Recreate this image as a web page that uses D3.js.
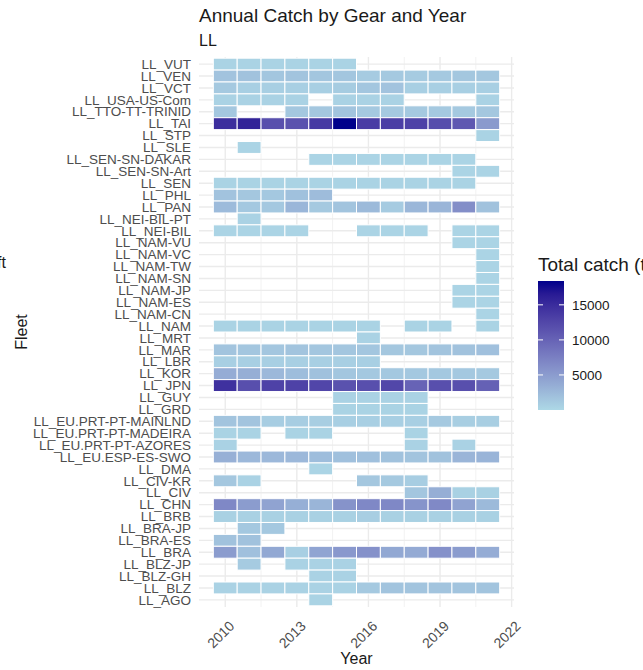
<!DOCTYPE html>
<html>
<head>
<meta charset="utf-8">
<script src="https://cdn.jsdelivr.net/npm/d3@7"></script>
<style>
  body { margin: 0; background: #fff; }
  text { font-family: "Liberation Sans", Arial, sans-serif; }
</style>
</head>
<body>
<svg id="chartSvg"></svg>
<script>
// years on the x axis
years = [2010, 2011, 2012, 2013, 2014, 2015, 2016, 2017, 2018, 2019, 2020, 2021]
xTicks = [2010, 2013, 2016, 2019, 2022]

// fleets, top to bottom
fleets = ['LL_VUT', 'LL_VEN', 'LL_VCT', 'LL_USA-US-Com', 'LL_TTO-TT-TRINID', 'LL_TAI', 'LL_STP', 'LL_SLE',
  'LL_SEN-SN-DAKAR', 'LL_SEN-SN-Art', 'LL_SEN', 'LL_PHL', 'LL_PAN', 'LL_NEI-BIL-PT', 'LL_NEI-BIL',
  'LL_NAM-VU', 'LL_NAM-VC', 'LL_NAM-TW', 'LL_NAM-SN', 'LL_NAM-JP', 'LL_NAM-ES', 'LL_NAM-CN', 'LL_NAM',
  'LL_MRT', 'LL_MAR', 'LL_LBR', 'LL_KOR', 'LL_JPN', 'LL_GUY', 'LL_GRD', 'LL_EU.PRT-PT-MAINLND',
  'LL_EU.PRT-PT-MADEIRA', 'LL_EU.PRT-PT-AZORES', 'LL_EU.ESP-ES-SWO', 'LL_DMA', 'LL_CIV-KR', 'LL_CIV',
  'LL_CHN', 'LL_BRB', 'LL_BRA-JP', 'LL_BRA-ES', 'LL_BRA', 'LL_BLZ-JP', 'LL_BLZ-GH', 'LL_BLZ', 'LL_AGO']

// total catch (t) per fleet, one value per year 2010..2021 (null = no catch)
N = null
catchT = [
  [400, 400, 400, 400, 400, 400, N, N, N, N, N, N],                                   // VUT
  [1700, 1800, 1500, 1600, 1500, 1500, 1100, 1200, 1100, 1200, 1400, 1400],           // VEN
  [1200, 700, 700, 700, 700, 1000, 1500, 1700, 700, 700, 700, 700],                   // VCT
  [500, 500, 500, 500, N, 500, 500, 500, N, N, N, 500],                               // USA-US-Com
  [1400, N, N, 1400, 1400, 1600, 1200, 1200, 1200, 1200, 1200, 1400],                 // TTO
  [14800, 15800, 11800, 11500, 13800, 18400, 13500, 13300, 13000, 12000, 11000, 5200], // TAI
  [N, N, N, N, N, N, N, N, N, N, N, 400],                                             // STP
  [N, 300, N, N, N, N, N, N, N, N, N, N],                                             // SLE
  [N, N, N, N, 300, 300, 300, 300, 300, 300, 300, N],                                 // SEN-SN-DAKAR
  [N, N, N, N, N, N, N, N, N, N, 300, 300],                                           // SEN-SN-Art
  [400, 400, 400, 400, 400, 400, 400, 400, 400, 400, 400, N],                         // SEN
  [1700, 1400, 1300, 1900, 2300, N, N, N, N, N, N, N],                                // PHL
  [2400, 1300, 1300, 2800, 1200, 1600, 2500, 1100, 2700, 2900, 6200, 1800],          // PAN
  [N, 500, N, N, N, N, N, N, N, N, N, N],                                             // NEI-BIL-PT
  [300, 300, 300, 300, N, N, 300, 300, 300, N, 300, 300],                             // NEI-BIL
  [N, N, N, N, N, N, N, N, N, N, 300, 300],                                           // NAM-VU
  [N, N, N, N, N, N, N, N, N, N, N, 300],                                             // NAM-VC
  [N, N, N, N, N, N, N, N, N, N, N, 300],                                             // NAM-TW
  [N, N, N, N, N, N, N, N, N, N, N, 300],                                             // NAM-SN
  [N, N, N, N, N, N, N, N, N, N, 300, 300],                                           // NAM-JP
  [N, N, N, N, N, N, N, N, N, N, 300, 300],                                           // NAM-ES
  [N, N, N, N, N, N, N, N, N, N, N, 300],                                             // NAM-CN
  [400, 400, 400, 400, 400, 400, 400, N, 400, 400, N, 400],                           // NAM
  [N, N, N, N, N, N, 500, N, N, N, N, N],                                             // MRT
  [1600, 1500, 1500, 1600, 1500, 1500, 1500, 1400, 1400, 1600, 1800, 2000],          // MAR
  [700, 700, 700, 700, 700, 700, 700, N, N, N, N, N],                                 // LBR
  [3600, 3500, 2600, 2200, 1900, 1500, 1300, 1300, 1300, 1300, 1300, 1200],          // KOR
  [14500, 11800, 13000, 13000, 12600, 11500, 11800, 12500, 10000, 11800, 11800, 10200], // JPN
  [N, N, N, N, N, 500, 500, 500, 500, N, N, N],                                       // GUY
  [N, N, N, N, N, 400, 400, 400, 400, N, N, N],                                       // GRD
  [1600, 1600, 900, 900, 800, 700, 700, 700, 700, 1200, 800, 800],                    // EU.PRT-MAINLND
  [400, 400, N, 400, 400, N, N, N, 400, N, N, N],                                     // EU.PRT-MADEIRA
  [500, N, N, N, N, N, N, N, 500, N, 500, N],                                         // EU.PRT-AZORES
  [3300, 2600, 2600, 2600, 2200, 2000, 2000, 1800, 1600, 1800, 2900, 3000],          // EU.ESP-ES-SWO
  [N, N, N, N, 300, N, N, N, N, N, N, N],                                             // DMA
  [1400, 500, N, N, N, N, 1400, 1200, 900, N, N, N],                                  // CIV-KR
  [N, N, N, N, N, N, N, N, 1500, 3500, 600, 600],                                     // CIV
  [6700, 5000, 4400, 3400, 2900, 5800, 6700, 6700, 5700, 6600, 4400, 2500],          // CHN
  [600, 600, 600, 600, 600, 600, 800, 600, 600, 600, 600, 600],                       // BRB
  [N, 1300, 1300, N, N, N, N, N, N, N, N, N],                                         // BRA-JP
  [1800, 1800, N, N, N, N, N, N, N, N, N, N],                                         // BRA-ES
  [5000, 2000, 4000, 700, 4300, 5300, 5900, 4000, 3800, 5900, 5000, 3600],           // BRA
  [N, 1100, N, 500, 500, 500, N, N, N, N, N, N],                                      // BLZ-JP
  [N, N, N, N, 500, 500, N, N, N, N, N, N],                                           // BLZ-GH
  [500, 500, 500, 500, 500, 500, 1200, 1600, 1600, 1600, 1600, 1600],                // BLZ
  [N, N, N, N, 400, N, N, N, N, N, N, N]                                              // AGO
]
legendTicks = [5000, 10000, 15000]

let width = 643
let height = 670
let margin = { top: 57, left: 199, right: 129, bottom: 63 }
let chartWidth = width - margin.left - margin.right
let chartHeight = height - margin.top - margin.bottom

const svg = d3.select('#chartSvg').attr('width', width).attr('height', height)

cells = []
fleets.forEach((f, i) => years.forEach((y, j) => {
  if (catchT[i][j] != null) cells.push({ fleet: f, year: y, value: catchT[i][j] })
}))

xScale = d3.scaleLinear().domain([2008.9, 2022.1]).range([0, chartWidth])
// discrete axis with 0.6 of a step of room at each end
yScale = d3.scalePoint().domain(fleets).range([0, chartHeight]).padding(0.6)
let step = yScale.step()

maxCatch = d3.max(cells, d => d.value)
color = d3.scaleLinear().domain([0, maxCatch]).range(['lightblue', 'darkblue']).interpolate(d3.interpolateLab)

const g = svg.append('g').attr('transform', `translate(${margin.left},${margin.top})`)

// grid
minorX = [2011.5, 2014.5, 2017.5, 2020.5]
g.selectAll('.minor').data(minorX).enter().append('line')
  .attr('x1', d => xScale(d)).attr('x2', d => xScale(d))
  .attr('y1', 0).attr('y2', chartHeight)
  .attr('stroke', '#f2f2f2').attr('stroke-width', 1)
g.selectAll('.majorX').data(xTicks).enter().append('line')
  .attr('x1', d => xScale(d)).attr('x2', d => xScale(d))
  .attr('y1', 0).attr('y2', chartHeight)
  .attr('stroke', '#ebebeb').attr('stroke-width', 1.4)
g.selectAll('.majorY').data(fleets).enter().append('line')
  .attr('x1', 0).attr('x2', chartWidth)
  .attr('y1', d => yScale(d)).attr('y2', d => yScale(d))
  .attr('stroke', '#ebebeb').attr('stroke-width', 1.4)

// tiles
let cellW = xScale(2011) - xScale(2010)
g.selectAll('.tile').data(cells).enter().append('rect')
  .attr('x', d => xScale(d.year) - cellW / 2)
  .attr('y', d => yScale(d.fleet) - step / 2)
  .attr('width', cellW)
  .attr('height', step)
  .attr('fill', d => color(d.value))
  .attr('stroke', 'white')
  .attr('stroke-width', 1)

// y labels
g.selectAll('.ylab').data(fleets).enter().append('text')
  .attr('x', -8)
  .attr('y', d => yScale(d))
  .attr('dy', '0.35em')
  .attr('text-anchor', 'end')
  .attr('font-size', 13.5)
  .attr('fill', '#4d4d4d')
  .text(d => d)

// x labels
g.selectAll('.xlab').data(xTicks).enter().append('text')
  .attr('transform', d => `translate(${xScale(d) + 3},${chartHeight + 13}) rotate(-45)`)
  .attr('text-anchor', 'end')
  .attr('dy', '0.7em')
  .attr('font-size', 14)
  .attr('fill', '#4d4d4d')
  .text(d => d)

// titles
svg.append('text').attr('x', margin.left).attr('y', 22).attr('font-size', 19).attr('fill', '#1a1a1a')
  .text('Annual Catch by Gear and Year')
svg.append('text').attr('x', margin.left).attr('y', 46).attr('font-size', 16).attr('fill', '#1a1a1a')
  .text('LL')
svg.append('text').attr('x', margin.left + chartWidth / 2).attr('y', 664).attr('text-anchor', 'middle')
  .attr('font-size', 16).attr('fill', '#1a1a1a').text('Year')
svg.append('text').attr('transform', `translate(27,${margin.top + chartHeight / 2}) rotate(-90)`)
  .attr('text-anchor', 'middle').attr('font-size', 16).attr('fill', '#1a1a1a').text('Fleet')
svg.append('text').attr('x', 6).attr('y', 268).attr('text-anchor', 'end')
  .attr('font-size', 16).attr('fill', '#1a1a1a').text('Aircraft')

// legend
let lx = 538, ly = 281, lw = 26, lh = 129
legendScale = d3.scaleLinear().domain([0, maxCatch]).range([ly + lh, ly])
svg.append('text').attr('x', lx).attr('y', 271).attr('font-size', 19).attr('fill', '#1a1a1a')
  .text('Total catch (t)')
const defs = svg.append('defs')
const grad = defs.append('linearGradient').attr('id', 'lg').attr('x1', 0).attr('y1', 1).attr('x2', 0).attr('y2', 0)
d3.range(0, 1.001, 0.1).forEach(t => {
  grad.append('stop').attr('offset', t).attr('stop-color', color(t * maxCatch))
})
svg.append('rect').attr('x', lx).attr('y', ly).attr('width', lw).attr('height', lh).attr('fill', 'url(#lg)')
legendTicks.forEach(v => {
  svg.append('line').attr('x1', lx).attr('x2', lx + 5).attr('y1', legendScale(v)).attr('y2', legendScale(v))
    .attr('stroke', 'white').attr('stroke-width', 1)
  svg.append('line').attr('x1', lx + lw - 5).attr('x2', lx + lw).attr('y1', legendScale(v)).attr('y2', legendScale(v))
    .attr('stroke', 'white').attr('stroke-width', 1)
  svg.append('text').attr('x', lx + lw + 8).attr('y', legendScale(v)).attr('dy', '0.35em')
    .attr('font-size', 13.5).attr('fill', '#1a1a1a').text(v)
})
</script>
</body>
</html>
